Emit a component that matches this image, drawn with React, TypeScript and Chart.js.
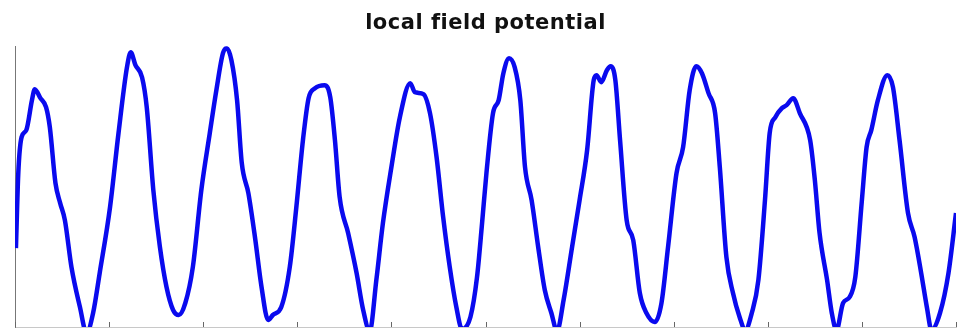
import React, { useEffect, useRef } from "react";
import { Chart, registerables } from "chart.js";

Chart.register(...registerables);

const TITLE = "local field potential";

// time (s) of each sample
const times = [
  0.001, 0.0035, 0.007, 0.012, 0.018, 0.021, 0.027, 0.033, 0.037, 0.043, 0.048, 0.053, 0.06, 0.069, 0.076, 0.083, 0.09,
  0.101, 0.11, 0.119, 0.123, 0.128, 0.135, 0.14, 0.147, 0.154, 0.161, 0.168, 0.174, 0.181, 0.189, 0.198,
  0.207, 0.214, 0.221, 0.225, 0.23, 0.236, 0.241, 0.248, 0.255, 0.262, 0.269, 0.274, 0.283, 0.292, 0.299,
  0.306, 0.312, 0.319, 0.329, 0.335, 0.34, 0.345, 0.354, 0.363, 0.37, 0.377, 0.384, 0.391, 0.4,
  0.409, 0.42, 0.425, 0.434, 0.441, 0.448, 0.455, 0.462, 0.469, 0.475, 0.484, 0.491, 0.496,
  0.501, 0.508, 0.514, 0.519, 0.525, 0.531, 0.537, 0.542, 0.549, 0.556, 0.563, 0.57, 0.576, 0.583, 0.592,
  0.6, 0.608, 0.615, 0.618, 0.623, 0.629, 0.633, 0.638, 0.643, 0.65, 0.657, 0.664, 0.671, 0.68, 0.687, 0.694,
  0.703, 0.71, 0.717, 0.724, 0.73, 0.737, 0.744, 0.749, 0.756, 0.763, 0.77, 0.776, 0.783, 0.79, 0.797,
  0.802, 0.808, 0.815, 0.82, 0.827, 0.834, 0.845, 0.85, 0.855, 0.863, 0.868, 0.873, 0.88, 0.887, 0.893,
  0.9, 0.905, 0.91, 0.917, 0.927, 0.933, 0.94, 0.949, 0.956, 0.963, 0.969, 0.974, 0.983, 0.992, 1.0,
];

// potential (arbitrary units) at each sample
const potential = [
  79, 154, 190, 197, 227, 238, 229, 220, 200, 144, 124, 107, 60, 20, -6, 14, 54,
  120, 194, 260, 275, 262, 250, 220, 137, 80, 40, 17, 12, 24, 60, 137,
  194, 237, 274, 279, 267, 227, 164, 134, 90, 40, 7, 12, 20, 60, 120,
  187, 229, 239, 242, 230, 187, 130, 94, 54, 17, -4, 47, 104, 160,
  210, 244, 235, 233, 214, 170, 110, 60, 20, -2, 10, 50, 100,
  154, 214, 227, 254, 269, 260, 227, 160, 127, 80, 37, 14, -4, 27, 80,
  127, 177, 247, 252, 245, 257, 261, 247, 187, 107, 87, 34, 14, 5, 24, 80,
  154, 180, 237, 261, 254, 234, 214, 160, 70, 34, 10, -3, 14, 47, 127,
  194, 210, 219, 222, 229, 214, 187, 147, 94, 47, 14, -3, 24, 30, 50,
  127, 180, 197, 227, 252, 240, 187, 114, 90, 54, 20, -3, 14, 54, 114,
];

const xTickStep = 0.1;

const titleSpacing = {
  id: "titleSpacing",
  beforeDraw(chart: any) {
    (chart.ctx as any).letterSpacing = "0.5px";
  },
  afterDraw(chart: any) {
    (chart.ctx as any).letterSpacing = "0px";
  },
};

const inwardTicks = {
  id: "inwardTicks",
  afterDraw(chart: any) {
    const xs = chart.scales.x;
    const { ctx, chartArea } = chart;
    ctx.save();
    ctx.strokeStyle = "#666";
    ctx.lineWidth = 1;
    xs.ticks.forEach((t: any) => {
      const px = Math.round(xs.getPixelForValue(t.value)) + 0.5;
      ctx.beginPath();
      ctx.moveTo(px, chartArea.bottom);
      ctx.lineTo(px, chartArea.bottom - 5);
      ctx.stroke();
    });
    ctx.restore();
  },
};

export default function App() {
  const ref = useRef<HTMLCanvasElement | null>(null);
  useEffect(() => {
    if (!ref.current) return;
    const chart = new Chart(ref.current, {
      type: "line",
      data: {
        datasets: [
          {
            data: times.map((t, i) => ({ x: t, y: potential[i] })),
            borderColor: "#0a0aee",
            borderWidth: 4.5,
            pointRadius: 0,
            cubicInterpolationMode: "monotone",
            fill: false,
          },
        ],
      },
      options: {
        animation: false,
        responsive: false,
        maintainAspectRatio: false,
        layout: { padding: { left: 15, right: 5, top: 0, bottom: 4 } },
        plugins: {
          legend: { display: false },
          tooltip: { enabled: false },
          title: {
            display: true,
            text: TITLE,
            color: "#111",
            font: { family: "DejaVu Sans", size: 21, weight: "bold" },
            padding: { top: 11, bottom: 10 },
          },
        },
        scales: {
          x: {
            type: "linear",
            min: 0,
            max: 1,
            ticks: { display: false, stepSize: xTickStep },
            grid: { display: false, drawTicks: false },
            border: { display: true, color: "#c8c8c8", width: 1 },
          },
          y: {
            min: 0,
            max: 281,
            ticks: { display: false },
            grid: { display: false, drawTicks: false },
            border: { display: true, color: "#777", width: 1 },
          },
        },
      },
      plugins: [titleSpacing, inwardTicks],
    });
    return () => chart.destroy();
  }, []);
  return (
    <div style={{ position: "fixed", left: 0, top: 0, width: 961, height: 331, background: "#fff" }}>
      <canvas ref={ref} width={961} height={331} style={{ width: 961, height: 331 }} />
    </div>
  );
}
